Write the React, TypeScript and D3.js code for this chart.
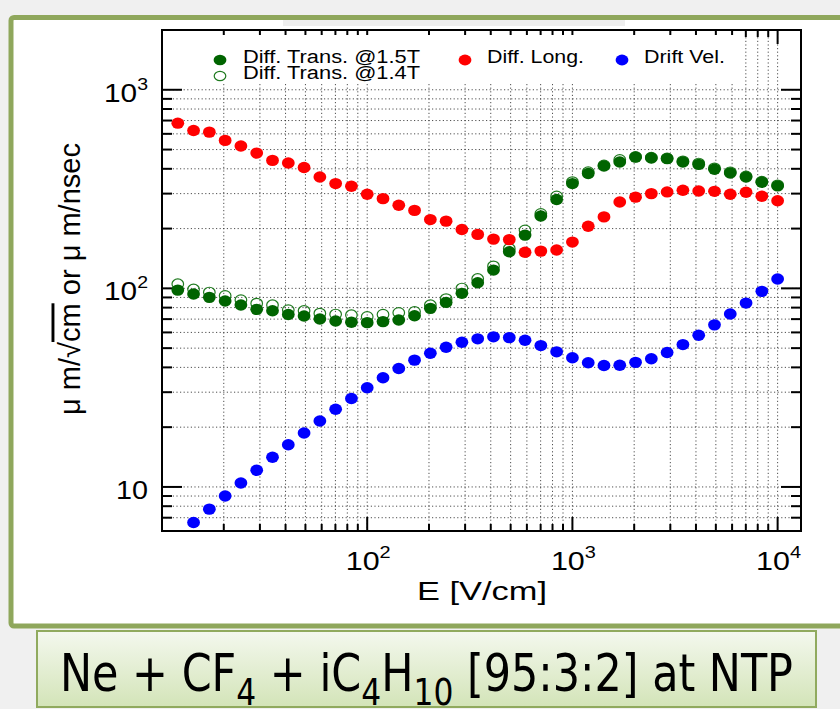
import React, { useEffect, useRef } from 'react';
import * as d3 from 'd3';

// E field points [V/cm] (log spaced)
const eField = [11.94, 14.25, 17.01, 20.31, 24.24, 28.94, 34.55, 41.25, 49.24, 58.78, 70.17, 83.77, 100,
    119.4, 142.5, 170.1, 203.1, 242.4, 289.4, 345.5, 412.5, 492.4, 587.8, 701.7, 837.7, 1000,
    1194, 1425, 1701, 2031, 2424, 2894, 3455, 4125, 4924, 5878, 7017, 8377, 10000];

const diffTrans15 = [98, 93.6, 90.1, 86.4, 82.4, 78.4, 77.1, 73.9, 72.6, 70.1, 68.5, 67.5, 67.2,
    68.0, 69.3, 72.8, 79.3, 85.0, 94.4, 106.7, 123.6, 152.8, 185.4, 231.6, 280, 337,
    378.6, 413, 432.7, 458, 453, 450, 433, 421, 398, 381, 364, 342, 328];

const diffTrans14 = [105.1, 98.9, 95.5, 91.8, 87.4, 84.0, 82.4, 77.8, 77.1, 74.8, 74.0, 73.4, 72.0,
    73.9, 75.4, 76.3, 82.4, 88.5, 100, 111.7, 129.4, 158.5, 196.2, 237.6, 291, 343.6,
    385.6, 417, 444.6, 460, 456, 452, 437, 426, 403, 385, 367, 345, 331];

const diffLong = [679, 624, 612, 556, 521, 480, 441, 428, 406, 364, 337, 327, 298,
    283, 262, 247, 222, 218, 198, 187, 177, 176, 152, 154, 156, 171,
    205.5, 229, 272, 288, 300, 306, 312, 309, 308, 298, 305, 291, 276];

const driftVel = [null, 6.62, 7.73, 9.01, 10.47, 12.13, 14.1, 16.3, 18.7, 21.5, 24.6, 27.9, 31.6,
    35.5, 39.5, 43.5, 47.1, 50.5, 53.5, 55.7, 57.0, 56.5, 54.8, 51.5, 47.9, 44.7,
    42.2, 40.9, 41.0, 42.4, 44.2, 47.5, 52.1, 58.1, 65.5, 74.3, 84.3, 96.6, 111.4];

const xMajorTicks = [100, 1000, 10000];
const xTickExps = ['2', '3', '4'];
const yMajorTicks = [10, 100, 1000];
const yTickExps = ['', '2', '3'];

const legendLabels = ['Diff. Trans. @1.5T', 'Diff. Trans. @1.4T', 'Diff. Long.', 'Drift Vel.'];

const FONT = 'Liberation Sans, Arial, Helvetica, sans-serif';

const App: React.FC = () => {
    const svgRef = useRef<SVGSVGElement>(null);

    useEffect(() => {
        const W = 840;
        const H = 709;
        const frame = { left: 162, right: 801, top: 30, bottom: 531 };

        const svg = d3.select(svgRef.current);
        svg.selectAll('*').remove();
        svg.attr('width', W).attr('height', H);

        const defs = svg.append('defs');
        const grad = defs.append('linearGradient')
            .attr('id', 'capGrad').attr('x1', 0).attr('y1', 0).attr('x2', 0).attr('y2', 1);
        grad.append('stop').attr('offset', '0%').attr('stop-color', '#f4f8ee');
        grad.append('stop').attr('offset', '100%').attr('stop-color', '#d3e4b8');

        // page + panel
        svg.append('rect').attr('width', W).attr('height', H).attr('fill', '#f0f0f0');
        svg.append('rect')
            .attr('x', 11).attr('y', 17.5).attr('width', 850).attr('height', 608.5).attr('rx', 3)
            .attr('fill', '#fff').attr('stroke', '#8fa75c').attr('stroke-width', 5);
        svg.append('rect').attr('x', 283).attr('y', 20).attr('width', 342).attr('height', 6).attr('fill', '#eeeeee');

        const x = d3.scaleLog().domain([10, 13000]).range([frame.left, frame.right]);
        const y = d3.scaleLog().domain([6, 2000]).range([frame.bottom, frame.top]);

        const xTicks = x.ticks().filter(t => t > 10 && t < 13000);
        const yTicks = y.ticks().filter(t => t > 6 && t < 2000);

        // grid
        const grid = svg.append('g')
            .attr('stroke', '#222').attr('stroke-width', 0.8).attr('stroke-dasharray', '1.2,2.4');
        xTicks.forEach(t => {
            grid.append('line').attr('x1', x(t)).attr('x2', x(t)).attr('y1', frame.top).attr('y2', frame.bottom);
        });
        yTicks.forEach(t => {
            grid.append('line').attr('x1', frame.left).attr('x2', frame.right).attr('y1', y(t)).attr('y2', y(t));
        });

        // ticks
        const ticks = svg.append('g').attr('stroke', '#000').attr('stroke-width', 2);
        xTicks.forEach(t => {
            const len = xMajorTicks.includes(t) ? 14 : 7;
            ticks.append('line').attr('x1', x(t)).attr('x2', x(t)).attr('y1', frame.bottom).attr('y2', frame.bottom - len);
            ticks.append('line').attr('x1', x(t)).attr('x2', x(t)).attr('y1', frame.top).attr('y2', frame.top + len);
        });
        yTicks.forEach(t => {
            const len = yMajorTicks.includes(t) ? 20 : 10;
            ticks.append('line').attr('x1', frame.left).attr('x2', frame.left + len).attr('y1', y(t)).attr('y2', y(t));
            ticks.append('line').attr('x1', frame.right).attr('x2', frame.right - len).attr('y1', y(t)).attr('y2', y(t));
        });

        // legend box (white, hides the grid)
        svg.append('rect').attr('x', frame.left + 1).attr('y', 35).attr('width', 578).attr('height', 48).attr('fill', '#fff');

        // data
        const rx = 6.4;
        const ry = 5.7;
        const plot = svg.append('g');
        const drawFilled = (vals: (number | null)[], color: string) => {
            vals.forEach((v, i) => {
                if (v == null) return;
                plot.append('ellipse')
                    .attr('cx', x(eField[i])).attr('cy', y(v)).attr('rx', rx).attr('ry', ry)
                    .attr('fill', color);
            });
        };
        diffTrans14.forEach((v, i) => {
            plot.append('ellipse')
                .attr('cx', x(eField[i])).attr('cy', y(v)).attr('rx', rx - 0.6).attr('ry', ry - 0.6)
                .attr('fill', 'none').attr('stroke', '#1f7a1f').attr('stroke-width', 1.2);
        });
        drawFilled(diffTrans15, '#006400');
        drawFilled(diffLong, '#ff0000');
        drawFilled(driftVel, '#0000ff');

        // frame
        svg.append('rect')
            .attr('x', frame.left).attr('y', frame.top)
            .attr('width', frame.right - frame.left).attr('height', frame.bottom - frame.top)
            .attr('fill', 'none').attr('stroke', '#000').attr('stroke-width', 2);

        // legend
        const lg = svg.append('g').attr('font-family', FONT).attr('font-size', 18).attr('fill', '#000');
        lg.append('ellipse').attr('cx', 220).attr('cy', 60).attr('rx', rx).attr('ry', ry - 0.5).attr('fill', '#006400');
        lg.append('ellipse').attr('cx', 220).attr('cy', 76).attr('rx', rx - 0.6).attr('ry', ry - 1).attr('fill', 'none')
            .attr('stroke', '#1f7a1f').attr('stroke-width', 1.2);
        lg.append('ellipse').attr('cx', 465).attr('cy', 60).attr('rx', rx).attr('ry', ry - 0.3).attr('fill', '#ff0000');
        lg.append('ellipse').attr('cx', 622).attr('cy', 60).attr('rx', rx).attr('ry', ry - 0.3).attr('fill', '#0000ff');
        const legendPos = [[243, 63, 177], [243, 79, 177], [487, 63, 97], [644, 63, 81]];
        legendLabels.forEach((lab, i) => {
            lg.append('text').attr('x', legendPos[i][0]).attr('y', legendPos[i][1])
                .attr('textLength', legendPos[i][2]).attr('lengthAdjust', 'spacingAndGlyphs')
                .text(lab);
        });

        // axis tick labels
        const labels = svg.append('g').attr('font-family', FONT).attr('fill', '#000');
        xMajorTicks.forEach((t, i) => {
            const tx = labels.append('text')
                .attr('x', x(t) + 1).attr('y', 570).attr('text-anchor', 'middle')
                .attr('font-size', 26).attr('textLength', 45).attr('lengthAdjust', 'spacingAndGlyphs');
            tx.append('tspan').text('10');
            tx.append('tspan').attr('font-size', 17).attr('dy', -12).text(xTickExps[i]);
        });
        yMajorTicks.forEach((t, i) => {
            const ty = labels.append('text')
                .attr('x', 148).attr('y', y(t) + 12).attr('text-anchor', 'end')
                .attr('font-size', 26).attr('lengthAdjust', 'spacingAndGlyphs')
                .attr('textLength', yTickExps[i] ? 44 : 32);
            ty.append('tspan').text('10');
            if (yTickExps[i]) ty.append('tspan').attr('font-size', 17).attr('dy', -12).text(yTickExps[i]);
        });

        // x axis title
        labels.append('text')
            .attr('x', 482).attr('y', 600).attr('text-anchor', 'middle')
            .attr('font-size', 26).attr('textLength', 130).attr('lengthAdjust', 'spacingAndGlyphs')
            .text('E [V/cm]');

        // y axis title
        const yt = labels.append('text')
            .attr('transform', 'translate(80,279) scale(1.12,1) rotate(-90)')
            .attr('text-anchor', 'middle').attr('font-size', 26)
            .attr('textLength', 272).attr('lengthAdjust', 'spacingAndGlyphs');
        yt.append('tspan').text('\u03bc m/\u221a');
        yt.append('tspan').style('text-decoration', 'overline').text('cm');
        yt.append('tspan').text(' or \u03bc m/nsec');

        // caption box
        svg.append('rect')
            .attr('x', 37).attr('y', 631).attr('width', 779).attr('height', 76)
            .attr('fill', 'url(#capGrad)').attr('stroke', '#90aa5e').attr('stroke-width', 2);
        const cap = svg.append('text')
            .attr('x', 60).attr('y', 691).attr('font-size', 52)
            .attr('font-family', '"Liberation Sans Narrow", "DejaVu Sans Condensed", "Open Sans", sans-serif')
            .attr('fill', '#000').attr('textLength', 733).attr('lengthAdjust', 'spacingAndGlyphs');
        const parts: [string, boolean][] = [
            ['Ne + CF', false], ['4', true], [' + iC', false], ['4', true], ['H', false], ['10', true],
            [' [95:3:2] at NTP', false],
        ];
        let shifted = false;
        parts.forEach(([s, sub]) => {
            const ts = cap.append('tspan').text(s);
            if (sub && !shifted) { ts.attr('dy', 14).attr('font-size', 38); shifted = true; }
            else if (sub) { ts.attr('font-size', 38); }
            else if (shifted) { ts.attr('dy', -14); shifted = false; }
        });
    }, []);

    return <svg ref={svgRef} style={{ position: 'absolute', left: 0, top: 0, display: 'block' }}></svg>;
};

export default App;
